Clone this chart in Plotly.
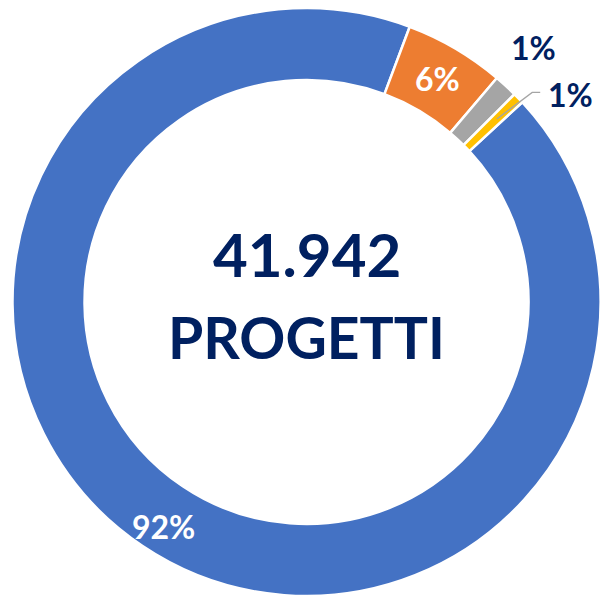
import math
import plotly.graph_objects as go

# Data
categories = ["A", "B", "C", "D"]
values = [92.6, 5.5, 1.3, 0.6]
label_texts = ["92%", "6%", "1%", "1%"]
colors = ["#4472C4", "#ED7D31", "#A5A5A5", "#FFC000"]
center_value = "41.942"
center_label = "PROGETTI"

W, H = 603, 600
CX, CY, R = 306.5, 302, 294
HOLE = 0.755
START = 47.2  # degrees clockwise from 12 o'clock for first slice
NAVY = "#002060"
FONT = "Lato"

fig = go.Figure()
fig.add_trace(go.Pie(
    labels=categories,
    values=values,
    textinfo="none",
    sort=False,
    direction="clockwise",
    rotation=START,
    hole=HOLE,
    marker=dict(colors=colors, line=dict(color="white", width=2.5)),
    domain=dict(x=[(CX - R) / W, (CX + R) / W], y=[(H - CY - R) / H, (H - CY + R) / H]),
    showlegend=False,
    hoverinfo="label+percent",
))

total = sum(values)


def pt(angle_deg, r):
    a = math.radians(angle_deg)
    x = CX + r * math.sin(a)
    y = CY - r * math.cos(a)
    return x / W, 1 - y / H


# cumulative mid angles
cum = START
mids = []
for v in values:
    span = v / total * 360
    mids.append(cum + span / 2)
    cum += span


def ann(x, y, text, color, size, xanchor="center"):
    return dict(x=x, y=y, xref="paper", yref="paper", showarrow=False,
                xanchor=xanchor, yanchor="middle", text=f"<b>{text}</b>",
                font=dict(family=FONT, size=size, color=color))


annotations = []
# inside labels (blue, orange)
bx, by = pt(mids[0] - 1.4, 266)
annotations.append(ann(bx, by, label_texts[0], "white", 32))
ox, oy = pt(mids[1], 259)
annotations.append(ann(ox, oy, label_texts[1], "white", 32))
# gray label (outside, no leader)
gx, gy = pt(mids[2] - 1.0, 341)
annotations.append(ann(gx, gy, label_texts[2], NAVY, 32))
# yellow label with leader line
lx0, ly0 = pt(mids[3], 264)
lx1, ly1 = pt(mids[3] + 1.0, 308)
lx2 = lx1 + 8 / W
fig.add_shape(type="path", xref="paper", yref="paper",
              path=f"M {lx0} {ly0} L {lx1} {ly1} L {lx2} {ly1}",
              line=dict(color="#A5A5A5", width=1.3))
annotations.append(ann(lx2 + 6 / W, ly1 - 2 / H, label_texts[3], NAVY, 32, xanchor="left"))
# center text
annotations.append(ann(CX / W, 1 - 254 / H, center_value, NAVY, 60))
annotations.append(ann(CX / W, 1 - 337 / H, center_label, NAVY, 57))

fig.update_layout(
    width=W, height=H,
    margin=dict(l=0, r=0, t=0, b=0),
    paper_bgcolor="white",
    plot_bgcolor="white",
    annotations=annotations,
)

fig.write_html("out.html", config={"displayModeBar": False},
               post_script="document.body.style.margin='0';document.body.style.overflow='hidden';")
